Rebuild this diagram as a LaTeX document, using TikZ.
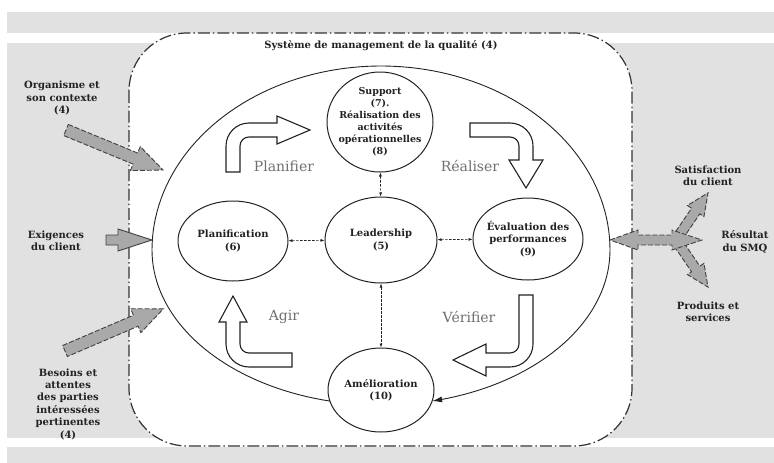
\documentclass[tikz,border=0pt]{standalone}
\usepackage{fontspec}
\setmainfont{DejaVu Serif}
\usetikzlibrary{arrows.meta,shapes.geometric}
\definecolor{bggrey}{HTML}{E1E1E1}
\definecolor{arrgrey}{HTML}{A9A9A9}
\definecolor{lblgrey}{HTML}{707070}
\definecolor{inkc}{HTML}{222222}
\newcommand\fatarr[4]{(0,-#3) -- ({#1-#2},-#3) -- ({#1-#2},-#4) -- (#1,0) -- ({#1-#2},#4) -- ({#1-#2},#3) -- (0,#3) -- cycle}
\begin{document}
\begin{tikzpicture}[x=1pt,y=-1pt,
  btxt/.style={font=\fontsize{10}{12.4}\selectfont\bfseries, text=inkc, align=center, inner sep=0pt},
  stxt/.style={font=\fontsize{9.5}{12}\selectfont\bfseries, text=inkc, align=center, inner sep=0pt},
  ell/.style={draw=inkc, ellipse, line width=1pt, inner sep=0pt, fill=white},
  lbl/.style={font=\fontsize{14}{16}\selectfont, text=lblgrey, inner sep=0pt},
  dconn/.style={draw=inkc, line width=0.6pt, dash pattern=on 2.5pt off 1.5pt, {Latex[length=4pt,width=3pt]}-{Latex[length=4pt,width=3pt]}},
  cyc/.style={draw=inkc, fill=white, line width=1.1pt, line join=miter},
  garr/.style={fill=arrgrey, draw=black!75, line width=0.9pt, dash pattern=on 5pt off 2pt, line join=miter},
  garrsolid/.style={fill=arrgrey, draw=black!75, line width=0.9pt, line join=miter}]
\useasboundingbox (0,0) rectangle (774,463);
% background bands
\fill[bggrey] (7,12) rectangle (774,33);
\fill[bggrey] (7,43) rectangle (774,438);
\fill[bggrey] (7,447) rectangle (774,463);
% system boundary
\draw[fill=white, line width=1.2pt, draw=black!80, dash pattern=on 12pt off 3pt on 1.5pt off 3pt, rounded corners=58pt] (129,33) rectangle (632,446);
\node[btxt] (title) at (381,46) {Système de management de la qualité (4)};

% big cycle curve
\draw[draw=inkc, line width=0.9pt, -{Latex[length=10pt,width=6pt]}]
  plot[domain=102.9:180, samples=40, variable=\t] ({381+229*cos(\t)},{250+155*sin(\t)})
  -- plot[domain=180:0, samples=90, variable=\t] ({381+229*cos(\t)},{250-184*sin(\t)})
  -- plot[domain=0:77.1, samples=40, variable=\t] ({381+229*cos(\t)},{250+155*sin(\t)});

% nodes
\node[ell, minimum width=106pt, minimum height=100pt] (sup) at (380,122) {};
\node[stxt] (supt) at (sup.center) {Support\\(7).\\Réalisation des\\activités\\opérationnelles\\(8)};
\node[ell, minimum width=112pt, minimum height=86pt] (lead) at (381,240) {};
\node[btxt] (leadt) at (lead.center) {Leadership\\(5)};
\node[ell, minimum width=110pt, minimum height=80pt] (plan) at (233,241) {};
\node[btxt] (plant) at (plan.center) {Planification\\(6)};
\node[ell, minimum width=110pt, minimum height=82pt] (eval) at (528,239) {};
\node[btxt] (evalt) at (eval.center) {Évaluation des\\performances\\(9)};
\node[ell, minimum width=106pt, minimum height=84pt] (amel) at (381,390) {};
\node[btxt] (amelt) at (amel.center) {Amélioration\\(10)};

% dashed links
\draw[dconn] (plan) -- (lead);
\draw[dconn] (lead) -- (eval);
\draw[dconn] (sup) -- (lead);
\draw[dconn] (lead) -- (amel);

% PDCA fat arrows
\draw[cyc] (226,172) -- (226,146) .. controls (226,133.3) and (236.3,123) .. (249,123) -- (277,123) -- (277,116) -- (310,130) -- (277,144) -- (277,137) -- (249,137) .. controls (244,137) and (240,141) .. (240,146) -- (240,172) -- cycle;
\draw[cyc] (470,123) -- (510,123) .. controls (522.7,123) and (533,133.3) .. (533,146) -- (533,160) -- (543,160) -- (526,188) -- (509,160) -- (519,160) -- (519,146) .. controls (519,141) and (515,137) .. (510,137) -- (470,137) -- cycle;
\draw[cyc] (519,295) -- (533,295) -- (533,344) .. controls (533,356.7) and (522.7,367) .. (510,367) -- (486,367) -- (486,376) -- (453,360) -- (486,344) -- (486,353) -- (510,353) .. controls (515,353) and (519,349) .. (519,344) -- cycle;
\draw[cyc] (292,353) -- (292,367) -- (249,367) .. controls (236.3,367) and (226,356.7) .. (226,344) -- (226,322) -- (219,322) -- (233,296) -- (247,322) -- (240,322) -- (240,344) .. controls (240,349) and (244,353) .. (249,353) -- cycle;

\node[lbl] (lplan) at (284,166) {Planifier};
\node[lbl] (lreal) at (470,166) {Réaliser};
\node[lbl] (lagir) at (284,317) {Agir};
\node[lbl] (lveri) at (469,317) {Vérifier};

% inputs (left)
\begin{scope}[shift={(66,130)}, rotate=-22.4]
  \draw[garr] \fatarr{105}{30}{6}{13};
\end{scope}
\begin{scope}[shift={(106,240)}]
  \draw[garrsolid] \fatarr{46}{34}{5}{11};
\end{scope}
\begin{scope}[shift={(65,351)}, rotate=23.2]
  \draw[garr] \fatarr{107}{30}{6}{13};
\end{scope}
\node[btxt] (org) at (62,98) {Organisme et\\son contexte\\(4)};
\node[btxt] (exig) at (56,241) {Exigences\\du client};
\node[btxt] (bes) at (68,404) {Besoins et\\attentes\\des parties\\intéressées\\pertinentes\\(4)};

% outputs (right)
\begin{scope}[shift={(676,240)}, rotate=55.8]
  \draw[garr] \fatarr{57}{22}{5}{10};
\end{scope}
\begin{scope}[shift={(676,240)}, rotate=-55.8]
  \draw[garr] \fatarr{57}{22}{5}{10};
\end{scope}
\draw[garr] (610,240) -- (638,230) -- (638,235) -- (672,235) -- (672,230) -- (702,240) -- (672,250) -- (672,245) -- (638,245) -- (638,250) -- cycle;
\node[btxt] (satis) at (708,176) {Satisfaction\\du client};
\node[btxt] (res) at (745,242) {Résultat\\du SMQ};
\node[btxt] (prod) at (708,312) {Produits et\\services};
\end{tikzpicture}
\end{document}
